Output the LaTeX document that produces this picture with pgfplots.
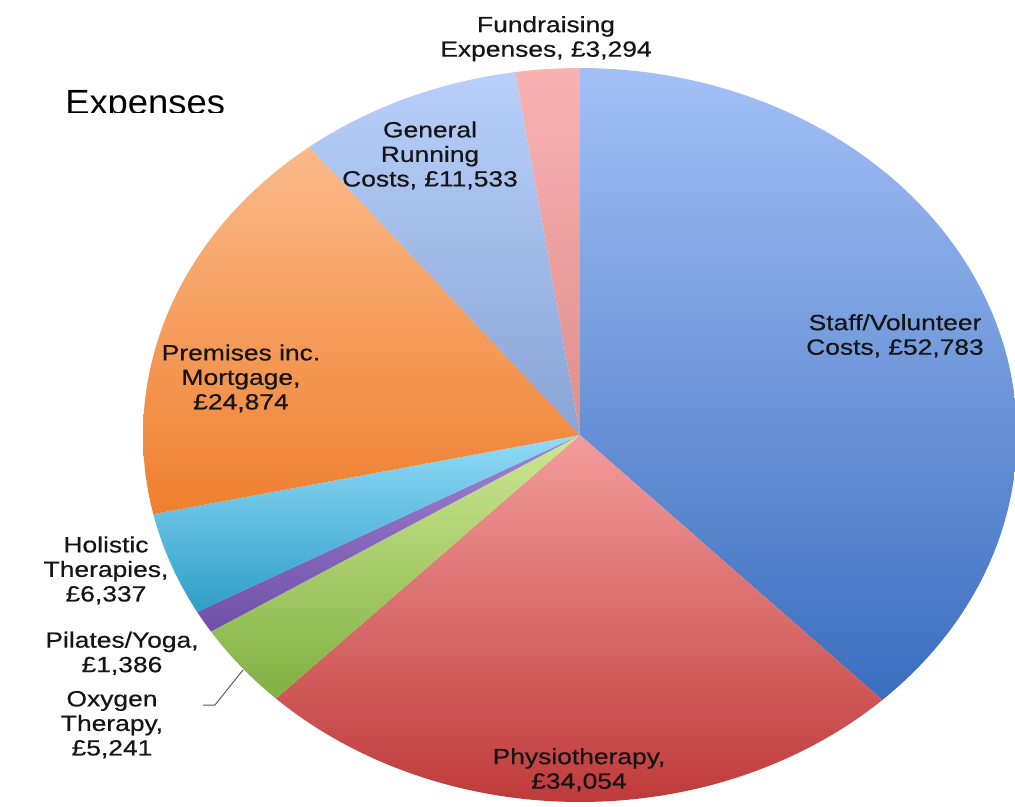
\documentclass[border=0pt]{standalone}
\usepackage{pgfplots}
\pgfplotsset{compat=1.18}
\usepackage{fontspec}
\setmainfont{Liberation Sans}
\newfontfamily\lblfont[FakeBold=0.5]{Liberation Sans}
\usepackage{graphicx}
\definecolor{txt}{HTML}{151515}
\definecolor{staffT}{HTML}{A3C0F6}
\definecolor{staffB}{HTML}{3A6EBE}
\definecolor{physT}{HTML}{F39C9C}
\definecolor{physB}{HTML}{BF3A3A}
\definecolor{oxyT}{HTML}{CDE892}
\definecolor{oxyB}{HTML}{80B042}
\definecolor{pilT}{HTML}{A282D2}
\definecolor{pilB}{HTML}{6E50A8}
\definecolor{holT}{HTML}{92DBF8}
\definecolor{holB}{HTML}{2E9EC6}
\definecolor{premT}{HTML}{FBBA8A}
\definecolor{premB}{HTML}{EF7F2E}
\definecolor{genT}{HTML}{B8D0FA}
\definecolor{genB}{HTML}{88A4D6}
\definecolor{fundT}{HTML}{F9B2B2}
\definecolor{fundB}{HTML}{DE8E8E}
% values (GBP)
\def\vStaff{52783}\def\vPhys{34054}\def\vOxy{5241}\def\vPil{1386}
\def\vHol{6337}\def\vPrem{24874}\def\vGen{11533}\def\vFund{3294}
\edef\vTot{\fpeval{\vStaff+\vPhys+\vOxy+\vPil+\vHol+\vPrem+\vGen+\vFund}}
\edef\aA{90}
\edef\aB{\fpeval{\aA-360*\vStaff/\vTot}}
\edef\aC{\fpeval{\aB-360*\vPhys/\vTot}}
\edef\aD{\fpeval{\aC-360*\vOxy/\vTot}}
\edef\aE{\fpeval{\aD-360*\vPil/\vTot}}
\edef\aF{\fpeval{\aE-360*\vHol/\vTot}}
\edef\aG{\fpeval{\aF-360*\vPrem/\vTot}}
\edef\aH{\fpeval{\aG-360*\vGen/\vTot}}
\edef\aI{\fpeval{\aH-360*\vFund/\vTot}}
\newcommand\lbl[1]{\scalebox{1.2}[1]{\lblfont\fontsize{16.5pt}{18.4pt}\selectfont\color{txt}\begin{tabular}{@{}c@{}}#1\end{tabular}}}
\begin{document}
\begin{tikzpicture}
\begin{axis}[hide axis, scale only axis, width=761.25pt, height=605.25pt,
  xmin=0, xmax=1015, ymin=0, ymax=807, y dir=reverse, clip=true]
\path (axis cs:0,0) rectangle (axis cs:1015,807);
\addplot[draw=none, top color=staffT, bottom color=staffB, domain=\aB:\aA, samples=120, variable=\t] ({580+437*cos(\t)},{435-367*sin(\t)}) -- (axis cs:580,435) -- cycle;
\addplot[draw=none, top color=physT, bottom color=physB, domain=\aC:\aB, samples=90, variable=\t] ({580+437*cos(\t)},{435-367*sin(\t)}) -- (axis cs:580,435) -- cycle;
\addplot[draw=none, top color=oxyT, bottom color=oxyB, domain=\aD:\aC, samples=20, variable=\t] ({580+437*cos(\t)},{435-367*sin(\t)}) -- (axis cs:580,435) -- cycle;
\addplot[draw=none, top color=pilT, bottom color=pilB, domain=\aE:\aD, samples=8, variable=\t] ({580+437*cos(\t)},{435-367*sin(\t)}) -- (axis cs:580,435) -- cycle;
\addplot[draw=none, top color=holT, bottom color=holB, domain=\aF:\aE, samples=20, variable=\t] ({580+437*cos(\t)},{435-367*sin(\t)}) -- (axis cs:580,435) -- cycle;
\addplot[draw=none, top color=premT, bottom color=premB, domain=\aG:\aF, samples=70, variable=\t] ({580+437*cos(\t)},{435-367*sin(\t)}) -- (axis cs:580,435) -- cycle;
\addplot[draw=none, top color=genT, bottom color=genB, domain=\aH:\aG, samples=35, variable=\t] ({580+437*cos(\t)},{435-367*sin(\t)}) -- (axis cs:580,435) -- cycle;
\addplot[draw=none, top color=fundT, bottom color=fundB, domain=\aI:\aH, samples=12, variable=\t] ({580+437*cos(\t)},{435-367*sin(\t)}) -- (axis cs:580,435) -- cycle;
% leader line
\draw[color=black!65, line width=0.75pt] (axis cs:203,705) -- (axis cs:215,705) -- (axis cs:243,670);
% labels
\node[inner sep=0] at (axis cs:546,39.5) {\lbl{Fundraising\\Expenses, £3,294}};
\node[inner sep=0] at (axis cs:430,157) {\lbl{General\\Running\\Costs, £11,533}};
\node[inner sep=0] at (axis cs:895,337.5) {\lbl{Staff/Volunteer\\Costs, £52,783}};
\node[inner sep=0] at (axis cs:241,380) {\lbl{Premises inc.\\Mortgage,\\£24,874}};
\node[inner sep=0] at (axis cs:106,572) {\lbl{Holistic\\Therapies,\\£6,337}};
\node[inner sep=0] at (axis cs:122,655) {\lbl{Pilates/Yoga,\\£1,386}};
\node[inner sep=0] at (axis cs:112,726) {\lbl{Oxygen\\Therapy,\\£5,241}};
\node[inner sep=0] at (axis cs:579,771.5) {\lbl{Physiotherapy,\\£34,054}};
% title, clipped at the bottom as in the source
\begin{scope}
\clip (axis cs:0,0) rectangle (axis cs:400,112);
\node[anchor=base west, inner sep=0] at (axis cs:65,114.5) {\scalebox{1.04}[1]{\fontsize{26.25pt}{30pt}\selectfont Expenses}};
\end{scope}
\end{axis}
\end{tikzpicture}
\end{document}
